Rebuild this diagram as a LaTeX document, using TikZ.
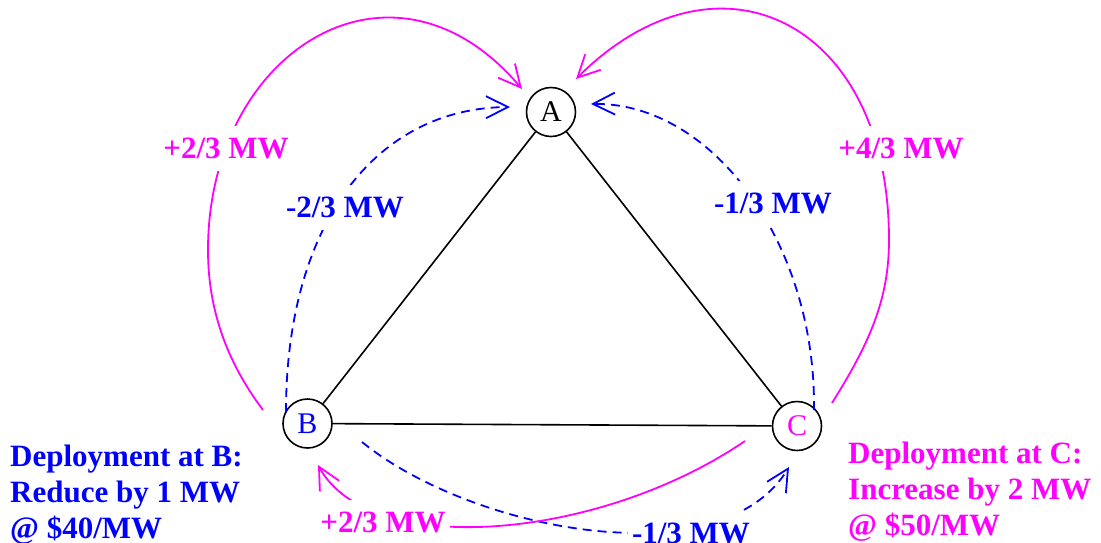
\documentclass[tikz,border=0pt]{standalone}
\usepackage{fontspec}
\setmainfont{Liberation Serif}
\usetikzlibrary{arrows.meta}
\definecolor{mag}{RGB}{255,0,255}
\definecolor{blu}{RGB}{0,0,255}
\begin{document}
\begin{tikzpicture}[x=1pt,y=-1pt,
  bus/.style={circle,draw=black,line width=1.6pt,minimum size=49pt,inner sep=0pt,fill=white,font=\fontsize{30}{30}\selectfont},
  edge/.style={black,line width=1.6pt},
  barb/.style={-{Straight Barb[length=22pt,width=22pt]}},
  flowm/.style={mag,line width=1.8pt,barb},
  flowb/.style={blu,line width=1.8pt,dash pattern=on 9pt off 6pt,barb},
  lab/.style={font=\fontsize{31}{36}\selectfont\bfseries,fill=white,inner xsep=4pt,inner ysep=12pt},
  note/.style={font=\fontsize{31}{36}\selectfont\bfseries,align=left,inner sep=0pt,anchor=north west}
]
\useasboundingbox (0,0) rectangle (1101,542);

% nodes
\node[bus] (A) at (551,112) {A};
\node[bus,text=blu] (B) at (307.5,423.5) {B};
\node[bus,text=mag] (C) at (797,426) {C};

% end points of flow arrows
\coordinate (mBs) at (263,410);
\coordinate (mBl) at (208,250);
\coordinate (mAl) at (522,89);
\coordinate (mCs) at (832,403);
\coordinate (mCr) at (889,240);
\coordinate (mAr) at (576,79);
\coordinate (bBs) at (286,412);
\coordinate (bAl) at (510,107);
\coordinate (bCs) at (814,410);
\coordinate (bAr) at (591,104);
\coordinate (bBb) at (362,442);
\coordinate (bCb) at (789,467);
\coordinate (mCb) at (745,441);
\coordinate (mBb) at (318,465);

% lines
\draw[edge] (A) -- (B);
\draw[edge] (A) -- (C);
\draw[edge] (B) -- (C);

% flows
\draw[flowm] (mBs) .. controls (227,362) and (208,310) .. (mBl)
  .. controls (208,50) and (393,-64) .. (mAl);
\draw[flowm] (mCs) .. controls (869,344) and (889,300) .. (mCr)
  .. controls (889,20) and (717,-62) .. (mAr);
\draw[flowb] (bBs) .. controls (286,225) and (375,108) .. (bAl);
\draw[flowb] (bCs) .. controls (816,240) and (710,102) .. (bAr);
\draw[flowb] (bBb) .. controls (470,530) and (720,580) .. (bCb);
\draw[flowm] (mCb) .. controls (600,540) and (370,560) .. (mBb);

% labels
\node[lab,text=mag] (l1) at (226,148) {+2/3 MW};
\node[lab,text=blu] (l2) at (345,207) {-2/3 MW};
\node[lab,text=blu] (l3) at (773,203) {-1/3 MW};
\node[lab,text=mag] (l4) at (901,148) {+4/3 MW};
\node[lab,text=mag] (l5) at (383,522) {+2/3 MW};
\node[lab,text=blu] (l6) at (691,533) {-1/3 MW};

\node[note,text=blu] (nB) at (10,445) {Deployment at B:\\Reduce by 1 MW\\@ \$40/MW};
\node[note,text=mag] (nC) at (848,442) {Deployment at C:\\Increase by 2 MW\\@ \$50/MW};
\end{tikzpicture}
\end{document}
